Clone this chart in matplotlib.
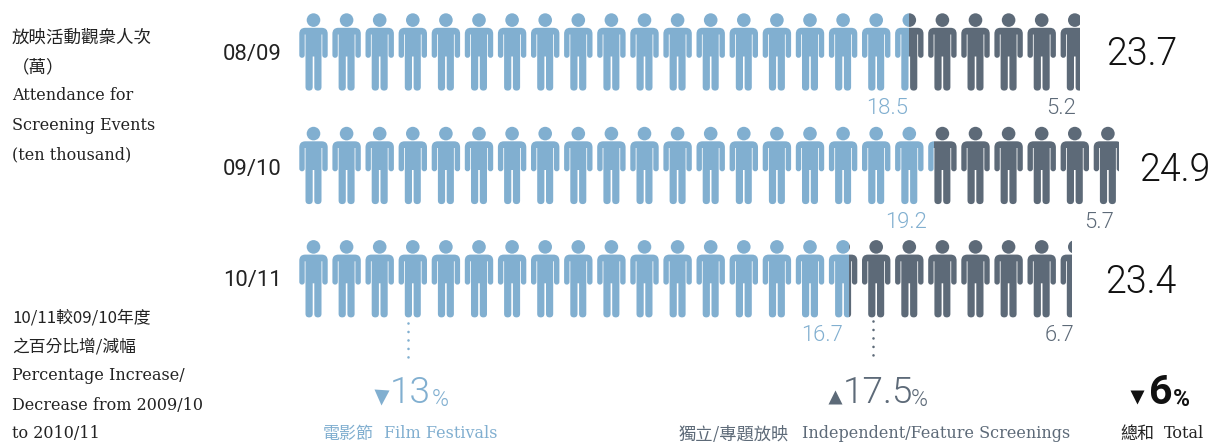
import math
import matplotlib
matplotlib.use("Agg")
import matplotlib.pyplot as plt
from matplotlib.path import Path
from matplotlib.patches import PathPatch, Rectangle
from matplotlib.transforms import Affine2D

# ---- data ----
seasons = ["08/09", "09/10", "10/11"]
festivals = [18.5, 19.2, 16.7]
independent = [5.2, 5.7, 6.7]
totals = [23.7, 24.9, 23.4]
changes = ["13", "17.5", "6"]

LIGHT = "#81afd0"
DARK = "#5d6a78"
INK = "#222222"

W, H = 1211, 442
DPI = 100
PITCH = 33.1
BODY_W = 28.4
LEFT = 299.3
ROW_TOPS = [13.5, 127.0, 240.3]

plt.rcParams["font.family"] = ["Roboto", "Noto Sans CJK TC", "DejaVu Sans"]
LABEL_FONT = ["DejaVu Serif", "Noto Sans CJK TC"]
CJK_FONT = ["Noto Sans CJK TC", "DejaVu Sans"]
NUM_FONT = ["Roboto", "DejaVu Sans"]


def person_path():
    """Standing figure, 28.4 wide and 77 tall, origin at the top left."""
    v, c = [], []

    def mv(x, y):
        v.append((x, y)); c.append(Path.MOVETO)

    def ln(x, y):
        v.append((x, y)); c.append(Path.LINETO)

    def qd(cx, cy, x, y):
        v.extend([(cx, cy), (x, y)]); c.extend([Path.CURVE3, Path.CURVE3])

    def foot(x1, x2, y, r):
        mid = (x1 + x2) / 2
        qd(x1, y + r, mid, y + r)
        qd(x2, y + r, x2, y)

    mv(6.0, 14.3)
    ln(22.4, 14.3)
    qd(28.4, 14.3, 28.4, 20.3)
    ln(28.4, 41.6)
    foot(28.4, 23.0, 41.6, 2.7)
    ln(23.0, 21.0)
    ln(22.2, 21.0)
    ln(22.2, 73.5)
    foot(22.2, 15.0, 73.5, 3.6)
    ln(15.0, 43.0)
    ln(13.4, 43.0)
    ln(13.4, 73.5)
    foot(13.4, 6.2, 73.5, 3.6)
    ln(6.2, 21.0)
    ln(5.4, 21.0)
    ln(5.4, 41.6)
    foot(5.4, 0, 41.6, 2.7)
    ln(0, 20.3)
    qd(0, 14.3, 6.0, 14.3)
    v.append((6.0, 14.3)); c.append(Path.CLOSEPOLY)
    body = Path(v, c)
    head = Path.circle((14.2, 6.6), 6.8)
    return Path.make_compound_path(head, body)


PERSON = person_path()

fig = plt.figure(figsize=(W / DPI, H / DPI), dpi=DPI, facecolor="white")

# Pictogram axes: x counts figures, y stays in pixels.
pic = fig.add_axes([LEFT / W, 0, (W - LEFT) / W, 1])
pic.set_xlim(0, (W - LEFT) / PITCH)
pic.set_ylim(H, 0)
pic.axis("off")

# Overlay for all text and annotation, in pixel coordinates.
ax = fig.add_axes([0, 0, 1, 1])
ax.set_xlim(0, W)
ax.set_ylim(H, 0)
ax.axis("off")
ax.patch.set_alpha(0)


def value_x(v):
    """Position of a value: whole figures plus a share of one figure's width."""
    whole = math.floor(v)
    return whole + (v - whole) * BODY_W / PITCH


def draw_segment(start, stop, top, color):
    x0, x1 = value_x(start), value_x(stop)
    clip = Rectangle((x0, top - 2), x1 - x0, 84, transform=pic.transData)
    for i in range(int(start), int(math.ceil(stop))):
        tr = Affine2D().scale(1 / PITCH, 1).translate(i, top) + pic.transData
        patch = PathPatch(PERSON, facecolor=color, edgecolor="none", transform=tr)
        pic.add_patch(patch)
        patch.set_clip_path(clip)


for fest, ind, total, top in zip(festivals, independent, totals, ROW_TOPS):
    draw_segment(0, fest, top, LIGHT)
    draw_segment(fest, fest + ind, top, DARK)


def px(size):
    return size * 72 / DPI


def label(x, y, s, size, color=INK, ha="left", family=LABEL_FONT, weight="normal"):
    ax.text(x, y, s, fontsize=px(size), color=color, ha=ha, va="center_baseline",
            family=family, fontweight=weight)


# Left-hand captions
label(12, 36, "放映活動觀衆人次", 17.5, family=CJK_FONT)
label(12, 65, "（萬）", 17.5, family=CJK_FONT)
for y, s in zip([94, 124, 153], ["Attendance for", "Screening Events", "(ten thousand)"]):
    label(12, y, s, 16)

label(12, 316, "10/11較09/10年度", 16.8, family=CJK_FONT)
label(12, 345, "之百分比增/減幅", 16.8, family=CJK_FONT)
for y, s in zip([374, 403, 432],
                ["Percentage Increase/", "Decrease from 2009/10", "to 2010/11"]):
    label(12, y, s, 16)

# Row headers, segment values and totals
for s, y in zip(seasons, [52, 167, 278]):
    label(252.5, y, s, 22, color="#222222", ha="center", family=NUM_FONT)


def fmt(v):
    return f"{v:.1f}"


for v, x, y in zip(festivals, [887, 906, 822], [108.5, 222.5, 335.5]):
    ax.text(x, y, fmt(v), fontsize=px(22), color=LIGHT, ha="center", va="center",
            family=NUM_FONT, fontweight=300)
for v, x, y in zip(independent, [1076, 1114, 1074], [108.5, 222.5, 335.5]):
    ax.text(x, y, fmt(v), fontsize=px(22), color=DARK, ha="right", va="center",
            family=NUM_FONT, fontweight=300)
for v, x, y in zip(totals, [1142, 1175, 1141], [54, 170, 282]):
    ax.text(x, y, fmt(v), fontsize=px(37.5), color="#111111", ha="center", va="center",
            family=NUM_FONT, fontweight=300)

# Leader dots from the last row down to the change figures
ax.plot([408, 408], [323, 358], color=LIGHT, lw=1.9, dashes=(0.01, 3.2),
        dash_capstyle="round")
ax.plot([873, 873], [321, 358], color=DARK, lw=1.9, dashes=(0.01, 3.2),
        dash_capstyle="round")

# Percentage changes
ax.plot(381, 397, marker="v", ms=px(15), color=LIGHT, mec="none")
ax.text(390, 393, changes[0], fontsize=px(37), color=LIGHT, ha="left", va="center",
        family=NUM_FONT, fontweight=300)
ax.text(432, 399, "%", fontsize=px(23), color=LIGHT, ha="left", va="center",
        family=NUM_FONT, fontweight=300)

ax.plot(835, 397, marker="^", ms=px(14), color=DARK, mec="none")
ax.text(843, 393, changes[1], fontsize=px(37), color=DARK, ha="left", va="center",
        family=NUM_FONT, fontweight=300)
ax.text(911, 399, "%", fontsize=px(23), color=DARK, ha="left", va="center",
        family=NUM_FONT, fontweight=300)

ax.plot(1137, 397, marker="v", ms=px(14), color="#111111", mec="none")
ax.text(1149, 393, changes[2], fontsize=px(41), color="#111111", ha="left", va="center",
        family=NUM_FONT, fontweight="bold")
ax.text(1173, 399, "%", fontsize=px(23), color="#111111", ha="left", va="center",
        family=NUM_FONT, fontweight="bold")

label(323, 432, "電影節", 17, color=LIGHT, family=CJK_FONT)
label(384, 432, "Film Festivals", 16, color=LIGHT)
label(679, 432, "獨立/專題放映", 17.3, color=DARK, family=CJK_FONT)
label(802, 432, "Independent/Feature Screenings", 16, color=DARK)
label(1120, 432, "總和", 17, color=INK, family=CJK_FONT)
label(1164, 432, "Total", 16, color=INK)

fig.savefig("out.png", dpi=DPI, facecolor="white")
